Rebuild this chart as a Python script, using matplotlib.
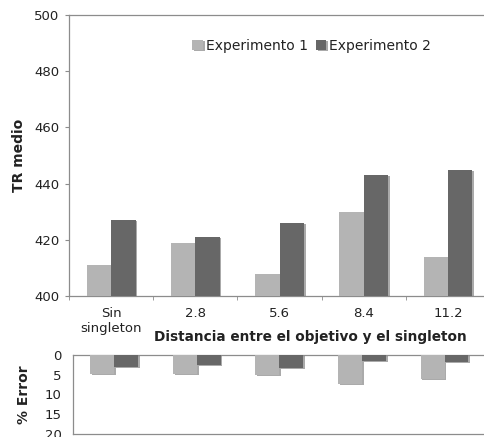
import matplotlib
matplotlib.use("Agg")
import matplotlib.pyplot as plt
import matplotlib.patheffects as pe
import numpy as np

# mean RT per distance condition, and error percentages
categorias = ["Sin\nsingleton", "2.8", "5.6", "8.4", "11.2"]
tr_exp1 = [411, 419, 408, 430, 414]
tr_exp2 = [427, 421, 426, 443, 445]
err_exp1 = [4.9, 4.9, 5.0, 7.3, 6.0]
err_exp2 = [3.1, 2.6, 3.3, 1.6, 1.7]

COL1 = "#b4b4b4"
COL2 = "#676767"
TXT = "#222222"
SPINE = "#8c8c8c"

plt.rcParams["font.family"] = "DejaVu Sans"

fig = plt.figure(figsize=(4.84, 4.37), dpi=100)
ax = fig.add_axes([0.1426, 0.3227, 0.870, 0.643])
ax_err = fig.add_axes([0.1508, 0.0069, 0.853, 0.1808])

x = np.arange(len(categorias))
w = 0.29
shadow = [pe.SimplePatchShadow(offset=(1.2, -0.8), shadow_rgbFace="#444444", alpha=0.45), pe.Normal()]

b1 = ax.bar(x - w / 2, np.array(tr_exp1) - 400, width=w, bottom=400, color=COL1,
            label="Experimento 1", zorder=3)
b2 = ax.bar(x + w / 2, np.array(tr_exp2) - 400, width=w, bottom=400, color=COL2,
            label="Experimento 2", zorder=3)
for b in list(b1) + list(b2):
    b.set_path_effects(shadow)

ax.set_xlim(-0.5, len(categorias) - 0.5)
ax.set_ylim(400, 500)
ax.set_yticks(range(400, 501, 20))
ax.set_xticks(x)
ax.set_xticklabels(categorias)
ax.set_xticks(np.arange(-0.5, len(categorias), 1), minor=True)
ax.tick_params(axis="x", which="major", length=0, pad=8, labelsize=9.5, labelcolor=TXT)
ax.tick_params(axis="x", which="minor", length=3, color=SPINE, direction="out")
ax.tick_params(axis="y", length=3, color=SPINE, pad=4, labelsize=9.5, labelcolor=TXT)
for s in ax.spines.values():
    s.set_color(SPINE)
    s.set_linewidth(0.9)

ax.set_ylabel("TR medio", fontsize=10, fontweight="bold", color=TXT, labelpad=6)
fig.text(0.642, 0.228, "Distancia entre el objetivo y el singleton", ha="center", va="center",
         fontsize=9.8, fontweight="bold", color=TXT)

ax.legend(loc="upper left", bbox_to_anchor=(0.28, 0.935), ncol=2, frameon=False,
          fontsize=10, handlelength=0.75, handleheight=0.75, handletextpad=0.2,
          columnspacing=0.6, borderaxespad=0, labelcolor=TXT)

# error panel, bars hanging from zero
e1 = ax_err.bar(x - w / 2, err_exp1, width=w, color=COL1, zorder=3)
e2 = ax_err.bar(x + w / 2, err_exp2, width=w, color=COL2, zorder=3)
for b in list(e1) + list(e2):
    b.set_path_effects(shadow)
ax_err.set_xlim(-0.5, len(categorias) - 0.5)
ax_err.set_ylim(20, 0)
ax_err.set_yticks(range(0, 21, 5))
ax_err.set_xticks([])
ax_err.tick_params(axis="y", length=0, pad=8, labelsize=9.5, labelcolor=TXT)
for s in ax_err.spines.values():
    s.set_color(SPINE)
    s.set_linewidth(0.9)
ax_err.set_ylabel("% Error", fontsize=10, fontweight="bold", color=TXT, labelpad=10)

fig.savefig("out.png", dpi=100)
